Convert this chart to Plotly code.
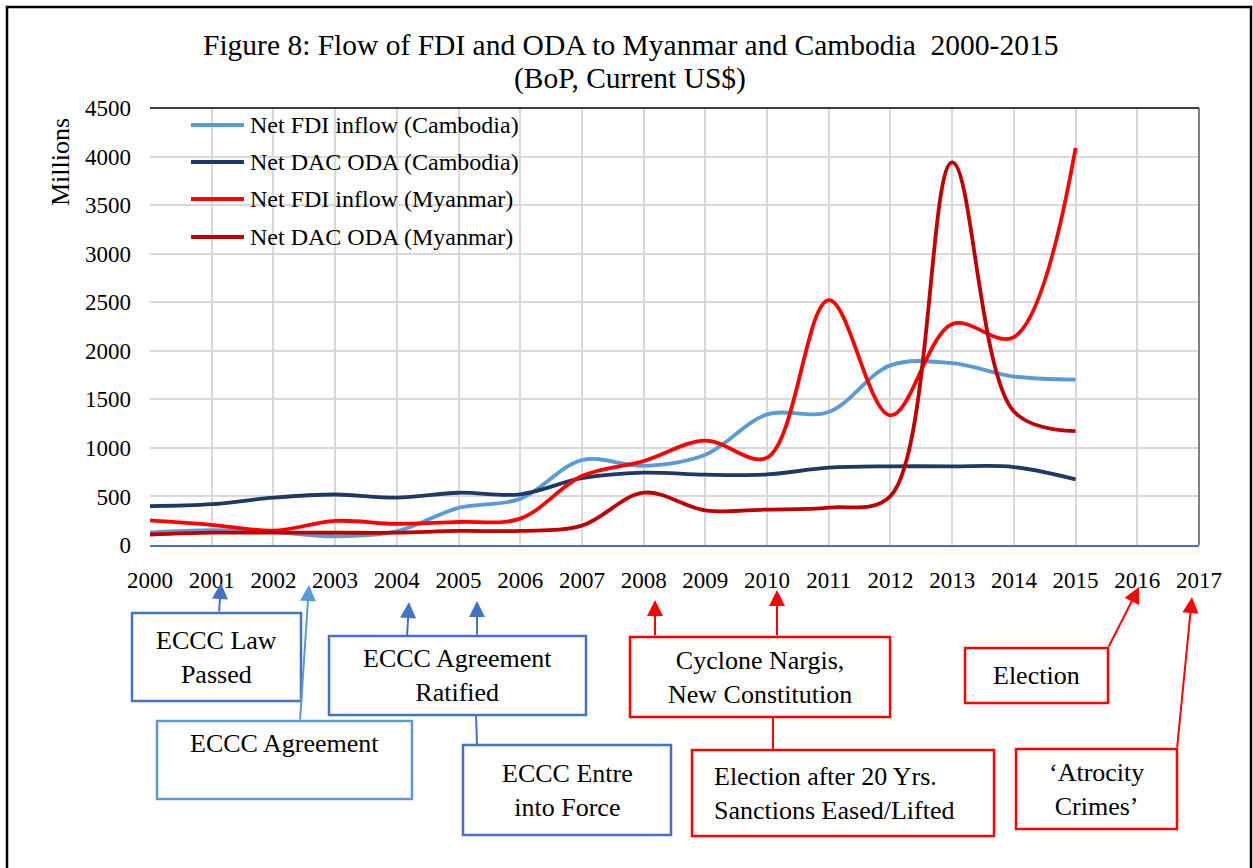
import plotly.graph_objects as go

# ---- data (US$ millions, BoP, current US$) ----
years = list(range(2000, 2016))
fdi_cambodia = [128, 152, 134, 90, 140, 382, 475, 875, 815, 930, 1345, 1370, 1850, 1872, 1735, 1702]
oda_cambodia = [400, 420, 488, 520, 488, 538, 522, 688, 745, 724, 727, 796, 810, 810, 803, 676]
fdi_myanmar = [254, 208, 148, 248, 218, 237, 272, 710, 864, 1075, 900, 2521, 1334, 2275, 2140, 4088]
oda_myanmar = [108, 127, 127, 127, 127, 145, 145, 200, 539, 357, 365, 385, 504, 3940, 1375, 1172]

series_names = [
    "Net FDI inflow (Cambodia)",
    "Net DAC ODA (Cambodia)",
    "Net FDI inflow (Myanmar)",
    "Net DAC ODA (Myanmar)",
]
series_values = [fdi_cambodia, oda_cambodia, fdi_myanmar, oda_myanmar]
series_colors = ["#5B9BD5", "#1F3864", "#FF0000", "#C00000"]

x_ticks = list(range(2000, 2018))
y_ticks = list(range(0, 5000, 500))

FONT = "Liberation Serif"
W, H = 1253, 868
L, R, T, B = 150, 54, 108, 323
PW, PH = W - L - R, H - T - B


def px(xp):
    """page x pixel -> paper x"""
    return (xp - L) / PW


def py(yp):
    """page y pixel -> paper y"""
    return (H - B - yp) / PH


fig = go.Figure()
for name, vals, col in zip(series_names, series_values, series_colors):
    fig.add_trace(go.Scatter(
        x=years, y=vals, name=name, mode="lines",
        line=dict(color=col, width=3.8, shape="spline", smoothing=1.0),
        showlegend=False,
    ))

shapes = []
annotations = []

# outer frame
shapes.append(dict(type="rect", xref="paper", yref="paper",
                   x0=px(7), x1=px(1251), y0=py(890), y1=py(7),
                   line=dict(color="black", width=2.5), layer="below"))
# plot-area top and right borders
shapes.append(dict(type="line", xref="paper", yref="paper",
                   x0=0, x1=1, y0=1, y1=1, line=dict(color="black", width=1.5)))
shapes.append(dict(type="line", xref="paper", yref="paper",
                   x0=1, x1=1, y0=0, y1=1, line=dict(color="#595959", width=1.5)))

# title
annotations.append(dict(text="Figure 8: Flow of FDI and ODA to Myanmar and Cambodia  2000-2015",
                        xref="paper", yref="paper", x=px(630), y=py(45),
                        xanchor="center", yanchor="middle", showarrow=False,
                        font=dict(family=FONT, size=29.5, color="black")))
annotations.append(dict(text="(BoP, Current US$)",
                        xref="paper", yref="paper", x=px(630), y=py(78),
                        xanchor="center", yanchor="middle", showarrow=False,
                        font=dict(family=FONT, size=29.5, color="black")))
# y-axis title
annotations.append(dict(text="Millions", textangle=-90,
                        xref="paper", yref="paper", x=px(60), y=py(162),
                        xanchor="center", yanchor="middle", showarrow=False,
                        font=dict(family=FONT, size=26, color="black")))

# legend inside the plot
legend_rows = [125, 162, 199, 237]
for name, col, yr in zip(series_names, series_colors, legend_rows):
    shapes.append(dict(type="line", xref="paper", yref="paper",
                       x0=px(191), x1=px(244), y0=py(yr), y1=py(yr),
                       line=dict(color=col, width=4)))
    annotations.append(dict(text=name, xref="paper", yref="paper",
                            x=px(248), y=py(yr), xanchor="left", yanchor="middle",
                            showarrow=False,
                            font=dict(family=FONT, size=24, color="black")))

# event boxes: (text, x0, y0, x1, y1, colour, align)
BLUE, LBLUE, RED = "#4472C4", "#5B9BD5", "#FF0000"
boxes = [
    ("ECCC Law<br>Passed", 132, 613, 301, 701, BLUE, "center"),
    ("ECCC Agreement<br> ", 157, 721, 412, 799, LBLUE, "center"),
    ("ECCC Agreement<br>Ratified", 329, 636, 586, 715, BLUE, "center"),
    ("ECCC Entre<br>into Force", 463, 745, 671, 835, BLUE, "center"),
    ("Cyclone Nargis,<br>New Constitution", 630, 637, 890, 717, RED, "center"),
    ("Election after 20 Yrs.<br>Sanctions Eased/Lifted", 692, 750, 994, 836, RED, "left"),
    ("Election", 965, 648, 1108, 703, RED, "center"),
    ("\u2018Atrocity<br>Crimes\u2019", 1016, 749, 1177, 829, RED, "center"),
]
for text, x0, y0, x1, y1, col, align in boxes:
    shapes.append(dict(type="rect", xref="paper", yref="paper",
                       x0=px(x0), x1=px(x1), y0=py(y1), y1=py(y0),
                       line=dict(color=col, width=2.5), fillcolor="white"))
    if align == "left":
        annotations.append(dict(text=text, xref="paper", yref="paper",
                                x=px(x0 + 20), y=py((y0 + y1) / 2),
                                xanchor="left", yanchor="middle", align="left",
                                showarrow=False,
                                font=dict(family=FONT, size=26, color="black")))
    else:
        annotations.append(dict(text=text, xref="paper", yref="paper",
                                x=px((x0 + x1) / 2), y=py((y0 + y1) / 2),
                                xanchor="center", yanchor="middle", align="center",
                                showarrow=False,
                                font=dict(family=FONT, size=26, color="black")))

# arrows: (tail x, tail y, head x, head y, colour)
arrows = [
    (219, 613, 221, 583, BLUE),
    (300, 721, 309, 585, LBLUE),
    (407, 637, 409, 602, BLUE),
    (477, 636, 477, 601, BLUE),
    (655, 637, 655, 600, RED),
    (777, 637, 777, 590, RED),
    (1108, 648, 1139, 587, RED),
    (1177, 749, 1192, 597, RED),
]
for tx, ty, hx, hy, col in arrows:
    annotations.append(dict(text="", xref="paper", yref="paper",
                            x=px(hx), y=py(hy), ax=tx - hx, ay=ty - hy,
                            showarrow=True, arrowhead=2, arrowsize=1.6,
                            arrowwidth=2, arrowcolor=col, standoff=0))

# connector lines between boxes
connectors = [
    (476, 715, 477, 745, BLUE),
    (773, 717, 773, 750, RED),
]
for x0, y0, x1, y1, col in connectors:
    shapes.append(dict(type="line", xref="paper", yref="paper",
                       x0=px(x0), x1=px(x1), y0=py(y0), y1=py(y1),
                       line=dict(color=col, width=2)))

fig.update_layout(
    width=W, height=H,
    margin=dict(l=L, r=R, t=T, b=B, pad=0),
    paper_bgcolor="white", plot_bgcolor="white",
    font=dict(family=FONT, color="black"),
    shapes=shapes, annotations=annotations,
    showlegend=False,
)
fig.update_xaxes(
    range=[2000, 2017], tickvals=x_ticks, ticktext=[str(v) for v in x_ticks],
    showgrid=True, gridcolor="#D9D9D9", gridwidth=1.5,
    showline=True, linecolor="#4472C4", linewidth=2,
    zeroline=False, ticks="", ticklabelstandoff=13,
    tickfont=dict(family=FONT, size=23, color="black"),
)
fig.update_yaxes(
    range=[0, 4500], tickvals=y_ticks,
    showgrid=True, gridcolor="#D9D9D9", gridwidth=1.5,
    showline=False, zeroline=False, ticks="", ticklabelstandoff=18,
    tickfont=dict(family=FONT, size=23, color="black"),
)

fig.write_html("out.html")
